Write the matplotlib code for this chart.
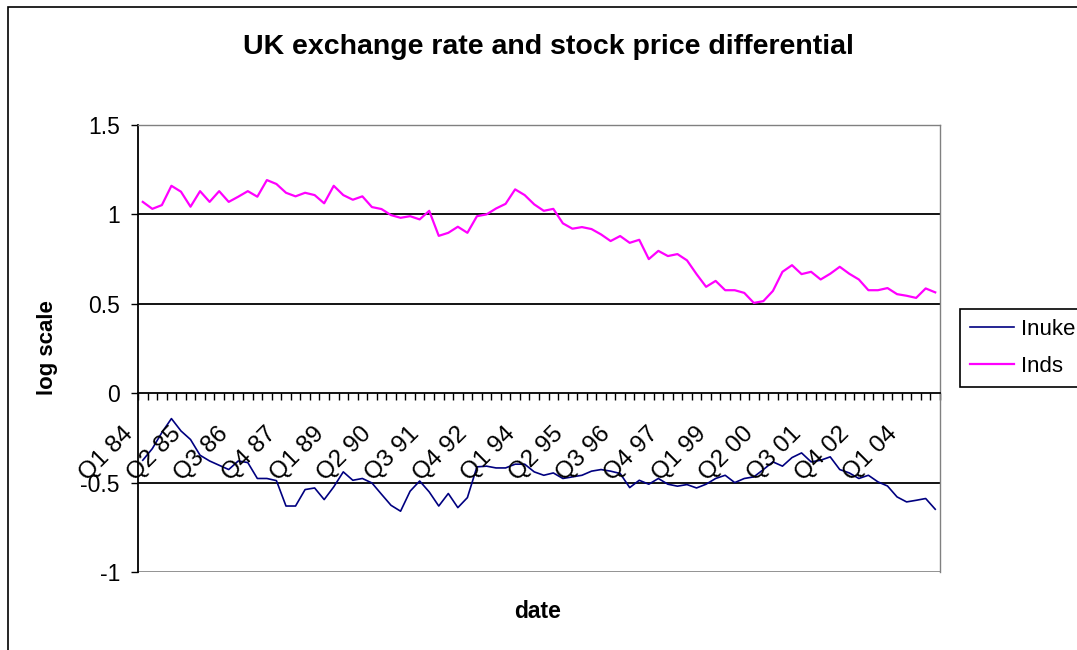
import matplotlib
matplotlib.use("Agg")
from matplotlib import pyplot as plt
from matplotlib.patches import Rectangle

plt.rcParams["font.family"] = ["Liberation Sans", "DejaVu Sans"]

# quarterly data, Q1 84 .. Q4 04
years = list(range(84, 100)) + list(range(0, 5))
quarters = [f"Q{q} {y:02d}" for y in years for q in (1, 2, 3, 4)]
inuke = [
    -0.375, -0.310, -0.220, -0.142, -0.211, -0.259, -0.347, -0.379, -0.403, -0.427,
    -0.379, -0.388, -0.477, -0.477, -0.489, -0.631, -0.631, -0.539, -0.530, -0.595,
    -0.524, -0.440, -0.487, -0.477, -0.502, -0.565, -0.627, -0.660, -0.548, -0.491,
    -0.552, -0.631, -0.561, -0.640, -0.584, -0.412, -0.408, -0.418, -0.418, -0.397,
    -0.397, -0.440, -0.459, -0.446, -0.477, -0.468, -0.459, -0.436, -0.427, -0.436,
    -0.449, -0.528, -0.487, -0.509, -0.477, -0.509, -0.520, -0.511, -0.530, -0.509,
    -0.477, -0.459, -0.500, -0.477, -0.468, -0.427, -0.384, -0.408, -0.360, -0.334,
    -0.384, -0.375, -0.356, -0.427, -0.446, -0.477, -0.459, -0.496, -0.519, -0.580,
    -0.608, -0.599, -0.589, -0.649,
]
inds = [
    1.070, 1.031, 1.052, 1.160, 1.127, 1.043, 1.130, 1.070, 1.130, 1.070,
    1.099, 1.130, 1.099, 1.192, 1.170, 1.121, 1.101, 1.121, 1.108, 1.062,
    1.160, 1.108, 1.082, 1.101, 1.041, 1.030, 0.996, 0.981, 0.990, 0.972,
    1.020, 0.880, 0.897, 0.931, 0.897, 0.990, 1.000, 1.033, 1.059, 1.140,
    1.108, 1.056, 1.020, 1.031, 0.950, 0.920, 0.929, 0.918, 0.888, 0.851,
    0.879, 0.841, 0.858, 0.750, 0.796, 0.767, 0.778, 0.743, 0.666, 0.595,
    0.628, 0.576, 0.576, 0.561, 0.505, 0.515, 0.572, 0.679, 0.716, 0.666,
    0.679, 0.636, 0.668, 0.707, 0.668, 0.636, 0.576, 0.576, 0.588, 0.554,
    0.545, 0.533, 0.586, 0.564,
]

W, H = 1077, 650
fig = plt.figure(figsize=(W / 100, H / 100), dpi=100)

# outer chart border (right/bottom run off the picture)
fig.patches.append(
    Rectangle((8 / W, -0.1), 1.2, 1.1 - 7 / H, transform=fig.transFigure,
              fill=False, edgecolor="black", lw=1.2)
)

ax = fig.add_axes([138 / W, 78 / H, 802 / W, 447 / H])
x = list(range(len(quarters)))

# gridlines
for g in (1, 0.5, -0.5):
    ax.axhline(g, color="black", lw=1.3, zorder=1)

ax.plot(x, inuke, color="#000080", lw=1.2, label="Inuke", zorder=3)
ax.plot(x, inds, color="#FF00FF", lw=1.6, label="Inds", zorder=3)

ax.set_xlim(-0.5, len(quarters) - 0.5)
ax.set_ylim(-1, 1.5)
ax.set_yticks([-1, -0.5, 0, 0.5, 1, 1.5])
ax.set_yticklabels(["-1", "-0.5", "0", "0.5", "1", "1.5"])
ax.tick_params(axis="y", direction="out", length=5, width=1, pad=8, labelsize=16.5)

# category axis crosses at 0, tick marks between categories
ax.spines["bottom"].set_position(("data", 0))
ax.spines["bottom"].set_linewidth(1.3)
ax.spines["left"].set_linewidth(1.3)
for s in ("top", "right"):
    ax.spines[s].set_color("#808080")
    ax.spines[s].set_linewidth(1)
ax.axhline(-1, color="#808080", lw=1.2, zorder=0)
ax.set_xticks([i - 0.5 for i in range(len(quarters) + 1)])
ax.set_xticklabels([])
ax.tick_params(axis="x", direction="out", length=5, width=1)
for i in range(0, len(quarters), 5):
    ax.annotate(
        quarters[i], xy=(i, 0), xytext=(-13, -37), textcoords="offset pixels",
        rotation=45, rotation_mode="anchor", ha="right", va="center",
        fontsize=17.5, zorder=4,
    )

fig.text(548 / W, 1 - 47 / H, "UK exchange rate and stock price differential",
         ha="center", va="center", fontsize=20.5, fontweight="bold")
fig.text(48 / W, 1 - 348 / H, "log scale", rotation=90, ha="center", va="center",
         fontsize=16, fontweight="bold")
fig.text(538 / W, 1 - 612 / H, "date", ha="center", va="center",
         fontsize=16.5, fontweight="bold")

leg = ax.legend(
    loc="center left", bbox_to_anchor=(960 / W, 1 - 348 / H),
    bbox_transform=fig.transFigure, borderaxespad=0, fontsize=16,
    fancybox=False, shadow=False, framealpha=1, edgecolor="black",
    handlelength=2, handletextpad=0.3, labelspacing=0.7, borderpad=0.45,
)
leg.get_frame().set_linewidth(1.2)

fig.savefig("out.png", dpi=100)
